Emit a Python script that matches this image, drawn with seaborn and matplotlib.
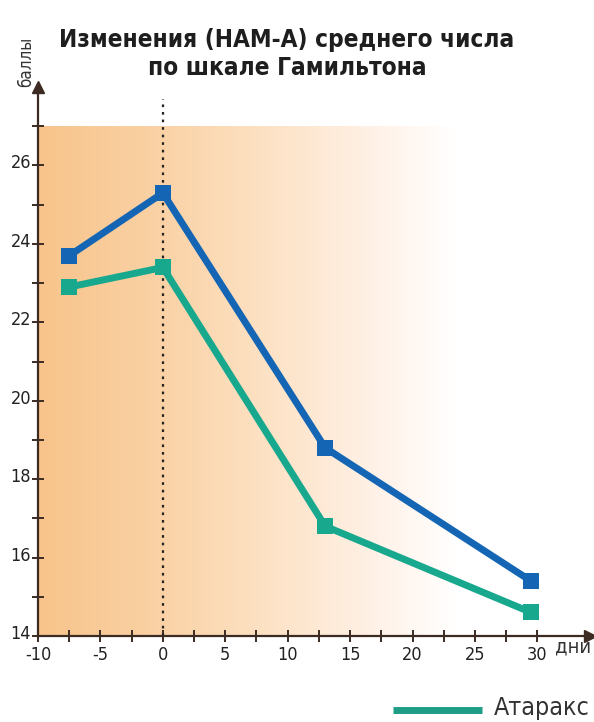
import os
import numpy as np
import pandas as pd
import matplotlib
matplotlib.use("Agg")
import matplotlib.pyplot as plt
from matplotlib import font_manager
from matplotlib.font_manager import FontProperties
from matplotlib.colors import LinearSegmentedColormap
from matplotlib.transforms import ScaledTranslation
import seaborn as sns

# Days relative to treatment start and mean HAM-A scores
days = [-7.5, 0, 13, 29.5]
score_atarax = [22.9, 23.4, 16.8, 14.6]
score_other = [23.7, 25.3, 18.8, 15.4]
series_names = ["Атаракс", "Группа сравнения"]

title_text = "Изменения (НАМ-А) среднего числа\nпо шкале Гамильтона"
y_label = "баллы"
x_label = "дни"
y_major = [14, 16, 18, 20, 22, 24, 26]
x_major = [-10, -5, 0, 5, 10, 15, 20, 25, 30]

sns.set_theme(style="white")
plt.rcParams["font.family"] = ["Liberation Sans", "DejaVu Sans"]


def narrow_font(bold):
    """Look for a condensed face with Cyrillic; fall back to Liberation Sans."""
    keys = ["liberationsansnarrow", "dejavusanscondensed", "robotocondensed",
            "opensanscondensed", "notosanscondensed"]
    files = [f.fname for f in font_manager.fontManager.ttflist]
    for key in keys:
        for fn in files:
            base = os.path.basename(fn).lower().replace("-", "").replace("_", "")
            if key not in base or "italic" in base or "oblique" in base:
                continue
            rest = base.replace(key, "")
            is_bold = rest.startswith("bold")
            if bold == is_bold and (bold or rest.startswith(("regular", ".", "book"))):
                return FontProperties(fname=fn)
    return FontProperties(family="Liberation Sans",
                          weight="bold" if bold else "normal")


fp_reg = narrow_font(False)
fp_bold = narrow_font(True)

df = pd.DataFrame({
    "day": days * 2,
    "score": score_atarax + score_other,
    "series": [series_names[0]] * len(days) + [series_names[1]] * len(days),
})

blue = "#1466b4"
teal = "#17a88e"
axis_col = "#3b2b22"

fig = plt.figure(figsize=(5.94, 7.22), dpi=100)
ax = fig.add_axes([0.064, 0.1191, 0.929, 0.7603])
ax.set_xlim(-10, 34.2)
ax.set_ylim(14, 28)

# peach gradient background fading to white
cmap = LinearSegmentedColormap.from_list(
    "peach", [(0.0, "#f8c48b"), (0.3, "#fad2a6"), (0.55, "#fde2c5"),
              (0.8, "#fff1e6"), (1.0, "#ffffff")])
grad = np.linspace(0, 1, 256).reshape(1, -1)
ax.imshow(grad, extent=(-10, 23.5, 14, 27), aspect="auto", cmap=cmap,
          zorder=0, interpolation="bilinear")

ax.plot([0, 0], [14, 27.7], color="#222222", linestyle=(0, (1.2, 2.2)),
        linewidth=1.6, zorder=1)

sns.lineplot(data=df, x="day", y="score", hue="series",
             palette={series_names[0]: teal, series_names[1]: blue},
             marker="s", markersize=12, markeredgewidth=0, linewidth=5,
             legend=False, ax=ax, zorder=3)

for s in ["top", "right"]:
    ax.spines[s].set_visible(False)
for s in ["left", "bottom"]:
    ax.spines[s].set_color(axis_col)
    ax.spines[s].set_linewidth(1.6)

ax.set_xticks(np.arange(-7.5, 30.1, 2.5), minor=True)
ax.set_xticks(x_major)
ax.set_xticklabels([str(v) for v in x_major])
ax.set_yticks(np.arange(15, 27.1, 1), minor=True)
ax.set_yticks(y_major)
ax.set_yticklabels([str(v) for v in y_major])
ax.tick_params(which="both", direction="inout", length=8, width=1.4,
               color=axis_col, labelcolor="#222222")
ax.tick_params(axis="x", which="both", pad=3, bottom=True)
ax.tick_params(axis="y", which="both", pad=1, left=True)
ax.set_xlabel("")
ax.set_ylabel("")

lift = ScaledTranslation(0, 0.04, fig.dpi_scale_trans)
for lbl in ax.get_yticklabels():
    lbl.set_fontproperties(fp_reg)
    lbl.set_fontsize(13)
    lbl.set_transform(lbl.get_transform() + lift)
for lbl in ax.get_xticklabels():
    lbl.set_fontproperties(fp_reg)
    lbl.set_fontsize(13)

# axis arrows
ax.plot(1, 0, marker=">", color=axis_col, markersize=8,
        transform=ax.transAxes, clip_on=False)
ax.plot(0, 1, marker="^", color=axis_col, markersize=8,
        transform=ax.transAxes, clip_on=False)

t_x = fig.text(555 / 594, 1 - 647 / 722, x_label, fontproperties=fp_reg,
               ha="left", va="center", color="#333333")
t_y = fig.text(26 / 594, 1 - 62 / 722, y_label, fontproperties=fp_reg,
               rotation=90, ha="center", va="center", color="#333333")
t_title = fig.text(287 / 594, 1 - 54 / 722, title_text, fontproperties=fp_bold,
                   ha="center", va="center", color="#1e1e1e",
                   linespacing=1.25, multialignment="center")

# legend entry
fig.lines.append(plt.Line2D([393 / 594, 482 / 594], [1 - 710 / 722] * 2,
                            color="#1e9d86", linewidth=5,
                            solid_capstyle="butt",
                            transform=fig.transFigure))
t_leg = fig.text(494 / 594, 1 - 708 / 722, series_names[0],
                 fontproperties=fp_reg, ha="left", va="center",
                 color="#333333")

# size the free texts to their intended extents
renderer = fig.canvas.get_renderer()
for t, w, h in [(t_title, 455, None), (t_x, 36, None), (t_y, None, 50),
                (t_leg, 96, None)]:
    t.set_fontsize(20)
    bb = t.get_window_extent(renderer)
    scale = w / bb.width if w else h / bb.height
    t.set_fontsize(20 * scale)

fig.savefig("out.png", dpi=100)
